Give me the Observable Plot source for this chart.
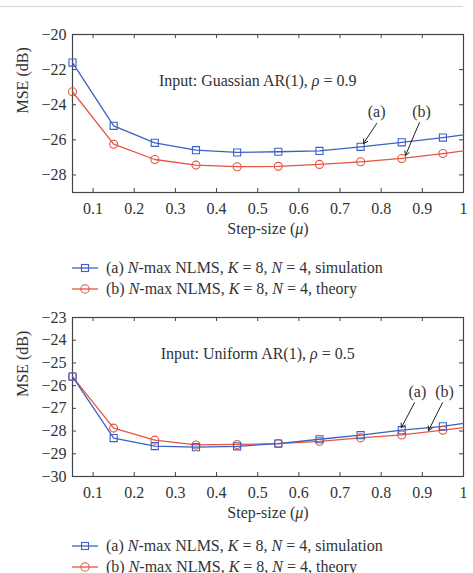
<!DOCTYPE html>
<html><head><meta charset="utf-8">
<script src="https://cdn.jsdelivr.net/npm/d3@7"></script>
<script src="https://cdn.jsdelivr.net/npm/@observablehq/plot@0.6"></script>
<style>
body{margin:0;background:#fff;width:473px;height:573px;overflow:hidden;position:relative;font-family:"Liberation Serif",serif;color:#333}
.hr{position:absolute;left:0;top:6px;width:463px;border-top:1px solid #d4d4d4}
.chart{position:absolute;left:0}
.chart svg text{font-family:"Liberation Serif",serif}
.legend{position:absolute;left:72px;font-size:16px;z-index:2}
.row{height:21px;display:flex;align-items:center;white-space:nowrap}
.row svg{margin-right:8px}
</style></head><body>
<div class="hr"></div>
<div class="chart" id="c1" style="top:0px"></div>
<div class="legend" id="l1" style="top:257px"></div>
<div class="chart" id="c2" style="top:290px"></div>
<div class="legend" id="l2" style="top:535px"></div>
<script>
// ---- data ----
const mu = [0.05, 0.15, 0.25, 0.35, 0.45, 0.55, 0.65, 0.75, 0.85, 0.95, 1.0];
const topSim    = [-21.6, -25.2, -26.17, -26.59, -26.72, -26.68, -26.63, -26.4, -26.14, -25.87, -25.72];
const topTheory = [-23.26, -26.25, -27.12, -27.44, -27.53, -27.51, -27.4, -27.25, -27.06, -26.78, -26.63];
const botSim    = [-25.6, -28.31, -28.66, -28.71, -28.67, -28.55, -28.36, -28.18, -27.96, -27.79, -27.66];
const botTheory = [-25.6, -27.87, -28.4, -28.61, -28.59, -28.55, -28.45, -28.3, -28.17, -27.96, -27.85];
const xTicks = [0.1, 0.2, 0.3, 0.4, 0.5, 0.6, 0.7, 0.8, 0.9, 1];
const topYTicks = [-28, -26, -24, -22, -20];
const botYTicks = [-30, -29, -28, -27, -26, -25, -24, -23];
const xLabel = "Step-size (μ)";
const yLabel = "MSE (dB)";
const seriesNames = ["(a) <i>N</i>-max NLMS, <i>K</i> = 8, <i>N</i> = 4, simulation",
                     "(b) <i>N</i>-max NLMS, <i>K</i> = 8, <i>N</i> = 4, theory"];
const topTitle = "Input: Guassian AR(1), ρ = 0.9";
const botTitle = "Input: Uniform AR(1), ρ = 0.5";
// annotation positions (data coords)
const topNotes = {title: [0.5, -22.62], a: [0.789, -24.38], b: [0.898, -24.38],
  arrows: [[0.789, -25.07, 0.757, -26.21], [0.893, -25.01, 0.859, -26.89]]};
const botNotes = {title: [0.5, -24.59], a: [0.888, -26.26], b: [0.954, -26.26],
  arrows: [[0.881, -26.75, 0.849, -27.85], [0.949, -26.75, 0.915, -27.98]]};

const BLUE = "#3d60c4", RED = "#e5553f", INK = "#333";
const W = 473, ML = 72, MR = 10, FS = 16, FF = "'Liberation Serif', serif";

function fmt(d){ return d < 0 ? "\u2212" + (-d) : String(d); }

function makeChart(sim, theory, yDomain, yTicks, notes, title, mt, mb, H){
  const fw = W - ML - MR, fh = H - mt - mb;
  const simData = mu.map((x,i)=>({x, y: sim[i]}));
  const thData = mu.map((x,i)=>({x, y: theory[i]}));
  const arrows = notes.arrows.map(a=>({x1:a[0],y1:a[1],x2:a[2],y2:a[3]}));
  const svg = Plot.plot({
    width: W, height: H, marginLeft: ML, marginRight: MR, marginTop: mt, marginBottom: mb,
    style: {fontFamily: FF, fontSize: FS + "px", color: INK, background: "transparent"},
    x: {domain: [0.05, 1]},
    y: {domain: yDomain},
    marks: [
      Plot.axisX(xTicks, {tickSize: 0, tickPadding: 10, fontSize: FS, fontFamily: FF, tickFormat: d=>String(d), label: null}),
      Plot.axisY(yTicks, {tickSize: 0, tickPadding: 6, fontSize: FS, fontFamily: FF, tickFormat: fmt, label: null}),
      Plot.text([xLabel], {frameAnchor: "bottom", dy: 41, text: d=>d, fontSize: FS, fontFamily: FF, fill: INK}),
      Plot.text([yLabel], {frameAnchor: "left", dx: -50, rotate: -90, text: d=>d, fontSize: FS, fontFamily: FF, fill: INK}),
      Plot.tickX(xTicks, {x: d=>d, insetTop: fh-4, stroke: "#444"}),
      Plot.tickX(xTicks, {x: d=>d, insetBottom: fh-4, stroke: "#444"}),
      Plot.tickY(yTicks, {y: d=>d, insetRight: fw-4, stroke: "#444"}),
      Plot.tickY(yTicks, {y: d=>d, insetLeft: fw-4, stroke: "#444"}),
      Plot.frame({stroke: "#444", strokeWidth: 1.2}),
      Plot.line(thData, {x: "x", y: "y", stroke: RED, strokeWidth: 1.3}),
      Plot.line(simData, {x: "x", y: "y", stroke: BLUE, strokeWidth: 1.3}),
      Plot.dot(thData.filter(d=>d.x < 1), {x: "x", y: "y", r: 4, stroke: RED, fill: "none", strokeWidth: 1.1}),
      Plot.dot(simData.filter(d=>d.x < 1), {x: "x", y: "y", symbol: "square", r: 4, stroke: BLUE, fill: "none", strokeWidth: 1.1}),
      Plot.text([title], {x: notes.title[0], y: notes.title[1], text: d=>d, fontSize: FS, fontFamily: FF, fill: INK}),
      Plot.text(["(a)"], {x: notes.a[0], y: notes.a[1], text: d=>d, fontSize: FS, fontFamily: FF, fill: INK}),
      Plot.text(["(b)"], {x: notes.b[0], y: notes.b[1], text: d=>d, fontSize: FS, fontFamily: FF, fill: INK}),
      Plot.arrow(arrows, {x1: "x1", y1: "y1", x2: "x2", y2: "y2", stroke: "#222", strokeWidth: 1, headLength: 7})
    ]
  });
  // italicize Greek letters
  svg.querySelectorAll("text").forEach(t=>{
    if (t.children.length === 0 && /[ρμ]/.test(t.textContent)) {
      t.innerHTML = t.textContent.replace(/&/g,"&amp;").replace(/</g,"&lt;").replace(/([ρμ])/g, '<tspan font-style="italic">$1</tspan>');
    }
  });
  return svg;
}

function makeLegend(el){
  const sym = [
    `<svg width="26" height="12"><line x1="0" y1="6" x2="26" y2="6" stroke="${BLUE}" stroke-width="1.3"/><rect x="9.5" y="2.5" width="7" height="7" fill="none" stroke="${BLUE}" stroke-width="1.1"/></svg>`,
    `<svg width="26" height="12"><line x1="0" y1="6" x2="26" y2="6" stroke="${RED}" stroke-width="1.3"/><circle cx="13" cy="6" r="4.2" fill="none" stroke="${RED}" stroke-width="1.1"/></svg>`
  ];
  el.innerHTML = seriesNames.map((n,i)=>`<div class="row">${sym[i]}<span>${n}</span></div>`).join("");
}

document.getElementById("c1").append(makeChart(topSim, topTheory, [-29, -20], topYTicks, topNotes, topTitle, 34, 53, 245));
document.getElementById("c2").append(makeChart(botSim, botTheory, [-30, -23], botYTicks, botNotes, botTitle, 27, 59, 245));
makeLegend(document.getElementById("l1"));
makeLegend(document.getElementById("l2"));
</script>
</body></html>
